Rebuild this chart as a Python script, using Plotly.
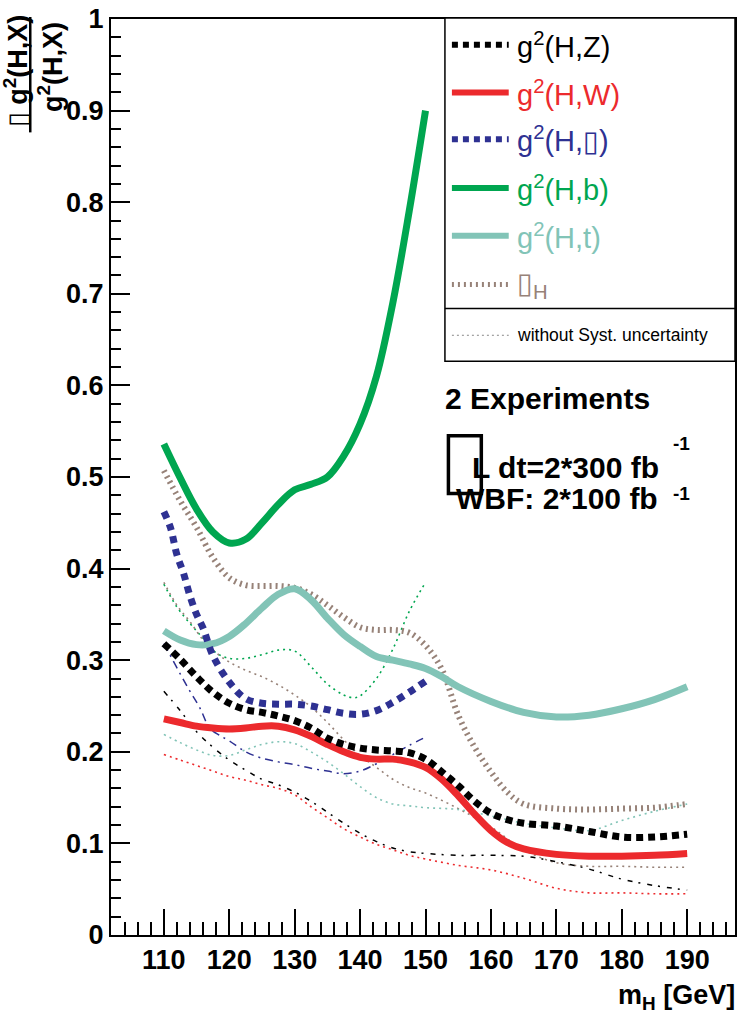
import plotly.graph_objects as go

# Higgs mass points (GeV) and relative coupling uncertainties
mass_bz = [110, 112.5, 115, 117.5, 120, 122.5, 125, 127.5, 130, 132.5, 135, 137.5, 140,
           142.5, 145, 147.5, 150, 152.5, 155, 157.5, 160, 162.5, 165, 170, 175, 180, 185, 190]
hz_syst = [0.318, 0.301, 0.282, 0.265, 0.253, 0.246, 0.243, 0.239, 0.234, 0.226, 0.215, 0.208, 0.204,
           0.202, 0.201, 0.199, 0.192, 0.178, 0.163, 0.146, 0.133, 0.126, 0.122, 0.119, 0.113, 0.107, 0.107, 0.110]
hw_syst = [0.236, 0.232, 0.228, 0.226, 0.225, 0.226, 0.228, 0.228, 0.224, 0.217, 0.208, 0.200, 0.194,
           0.192, 0.192, 0.189, 0.183, 0.170, 0.152, 0.132, 0.114, 0.101, 0.094, 0.088, 0.086, 0.086, 0.087, 0.089]
width_syst = [0.507, 0.474, 0.445, 0.412, 0.390, 0.382, 0.381, 0.381, 0.379, 0.372, 0.360, 0.347, 0.336,
              0.333, 0.333, 0.330, 0.316, 0.290, 0.240, 0.205, 0.178, 0.156, 0.143, 0.138, 0.137, 0.138, 0.139, 0.143]

mass_t = [110, 112.5, 115, 117.5, 120, 122.5, 125, 127.5, 130, 132.5, 135, 137.5, 140, 142.5, 145,
          147.5, 150, 152.5, 155, 160, 165, 170, 175, 180, 185, 190]
ht_syst = [0.332, 0.322, 0.317, 0.318, 0.326, 0.340, 0.357, 0.372, 0.378, 0.366, 0.346, 0.328, 0.315, 0.304, 0.300,
           0.296, 0.291, 0.282, 0.271, 0.255, 0.243, 0.238, 0.240, 0.247, 0.257, 0.271]

mass_b = [110, 112.5, 115, 117.5, 120, 122.5, 125, 127.5, 130, 132.5, 135, 137.5, 140, 142.5, 145, 147.5, 150]
hb_syst = [0.536, 0.499, 0.465, 0.440, 0.428, 0.432, 0.450, 0.470, 0.486, 0.492, 0.500, 0.523, 0.558, 0.610, 0.690, 0.790, 0.900]

mass_tau = [110, 111, 112, 113, 114, 115, 116, 117.5, 120, 122.5, 125, 127.5, 130, 132.5, 135, 137.5, 140, 142.5, 145, 147.5, 150]
htau_syst = [0.462, 0.445, 0.415, 0.395, 0.370, 0.350, 0.335, 0.305, 0.276, 0.258, 0.253, 0.252, 0.252, 0.250,
             0.246, 0.242, 0.241, 0.245, 0.254, 0.265, 0.277]

# statistical-only results
mass_nb = [110, 112, 114, 116, 118, 120, 122.5, 125, 127.5, 130, 132.5, 135, 137.5, 139, 140, 142.5, 145, 147.5, 150]
hb_stat = [0.383, 0.358, 0.340, 0.324, 0.308, 0.302, 0.302, 0.306, 0.311, 0.310, 0.293, 0.274, 0.262, 0.259, 0.261,
           0.280, 0.312, 0.353, 0.385]

mass_nw = [110, 112, 114, 116, 118, 120, 122.5, 125, 127.5, 130, 132.5, 135, 137.5, 140, 142.5, 145, 147.5, 150,
           155, 160, 165, 170, 175, 180, 185, 190]
width_stat = [0.385, 0.360, 0.342, 0.322, 0.308, 0.298, 0.289, 0.282, 0.273, 0.262, 0.249, 0.232, 0.213, 0.196,
              0.183, 0.170, 0.161, 0.155, 0.138, 0.118, 0.093, 0.079, 0.075, 0.075, 0.074, 0.074]

mass_s = [110, 112.5, 115, 117.5, 120, 122.5, 125, 127.5, 130, 132.5, 135, 137.5, 140, 142.5, 145, 147.5, 150,
          155, 160, 165, 170, 175, 180, 185, 190]
ht_stat = [0.219, 0.210, 0.202, 0.196, 0.196, 0.202, 0.208, 0.211, 0.209, 0.200, 0.189, 0.176, 0.162, 0.150, 0.143,
           0.141, 0.139, 0.137, 0.130, 0.122, 0.117, 0.114, 0.125, 0.135, 0.143]
hz_stat = [0.266, 0.245, 0.222, 0.205, 0.191, 0.180, 0.170, 0.164, 0.156, 0.146, 0.134, 0.122, 0.111, 0.102, 0.095,
           0.091, 0.089, 0.087, 0.087, 0.086, 0.080, 0.072, 0.061, 0.054, 0.049]
hw_stat = [0.197, 0.191, 0.185, 0.179, 0.173, 0.169, 0.164, 0.160, 0.153, 0.140, 0.128, 0.116, 0.107, 0.099, 0.093,
           0.087, 0.083, 0.076, 0.071, 0.062, 0.051, 0.046, 0.046, 0.045, 0.045]

mass_ntau = [110, 111, 112.5, 114, 115.5, 117, 118.5, 120, 122.5, 125, 127.5, 130, 132.5, 135, 137.5, 140, 142.5,
             145, 147.5, 150]
htau_stat = [0.318, 0.305, 0.285, 0.266, 0.248, 0.226, 0.218, 0.212, 0.200, 0.193, 0.189, 0.186, 0.182, 0.179,
             0.176, 0.179, 0.187, 0.197, 0.207, 0.216]

x_ticks = [110, 120, 130, 140, 150, 160, 170, 180, 190]

BLACK = "#000000"
RED = "#ec2a2d"
BLUE = "#2e3192"
GREEN = "#00a650"
TEAL = "#82c4b7"
BROWN = "#978278"

SANS = "Liberation Sans, Arial, DejaVu Sans, sans-serif"

fig = go.Figure()


def curve(x, y, color, width, dash):
    fig.add_trace(go.Scatter(x=x, y=y, mode="lines", showlegend=False, hoverinfo="skip",
                             line=dict(color=color, width=width, dash=dash, shape="spline", smoothing=1.0)))


# thin curves: statistics only
curve(mass_nb, hb_stat, GREEN, 1.6, "2px,4px")
curve(mass_nw, width_stat, BROWN, 1.6, "2px,4px")
curve(mass_s, ht_stat, TEAL, 1.6, "2px,4px")
curve(mass_s, hw_stat, RED, 1.6, "2px,4px")
curve(mass_ntau, htau_stat, BLUE, 1.5, "8px,5px,2px,5px")
curve(mass_s, hz_stat, BLACK, 1.5, "5px,6px,2px,7px")

# thick curves: including systematic uncertainty
curve(mass_bz, width_syst, BROWN, 6, "2px,4px")
curve(mass_t, ht_syst, TEAL, 7, "solid")
curve(mass_bz, hw_syst, RED, 7, "solid")
curve(mass_tau, htau_syst, BLUE, 7, "7px,6px")
curve(mass_bz, hz_syst, BLACK, 7, "7px,5px")
curve(mass_b, hb_syst, GREEN, 7, "solid")

# pixel -> paper helpers for the plot frame (left 111, right 737, top 14, bottom 935)
def px(xp):
    return (xp - 111) / 626.0


def py(yp):
    return (935 - yp) / 921.0


shapes = []
annotations = []

# legend box
shapes.append(dict(type="rect", xref="paper", yref="paper", x0=px(446), x1=px(737), y0=py(358), y1=py(13),
                   line=dict(color="black", width=1.5), fillcolor="white", layer="above"))
shapes.append(dict(type="line", xref="paper", yref="paper", x0=px(446), x1=px(737), y0=py(305), y1=py(305),
                   line=dict(color="black", width=1.5), layer="above"))

legend_items = [
    ("g<sup>2</sup>(H,Z)", BLACK, 6, "6px,5px", 40),
    ("g<sup>2</sup>(H,W)", RED, 6, "solid", 88),
    ("g<sup>2</sup>(H,▯)", BLUE, 6, "6px,5px", 135),
    ("g<sup>2</sup>(H,b)", GREEN, 6, "solid", 184),
    ("g<sup>2</sup>(H,t)", TEAL, 6, "solid", 232),
    ("▯<sub>H</sub>", BROWN, 5, "2px,4px", 281),
]
for text, color, w, dash, yc in legend_items:
    shapes.append(dict(type="line", xref="paper", yref="paper", x0=px(453), x1=px(510), y0=py(yc), y1=py(yc),
                       line=dict(color=color, width=w, dash=dash), layer="above"))
    annotations.append(dict(text=text, xref="paper", yref="paper", x=px(516), y=py(yc), xanchor="left",
                            yanchor="middle", showarrow=False, font=dict(family=SANS, size=29, color=color)))

shapes.append(dict(type="line", xref="paper", yref="paper", x0=px(453), x1=px(510), y0=py(332), y1=py(332),
                   line=dict(color="#888888", width=1, dash="2px,3px"), layer="above"))
annotations.append(dict(text="without Syst. uncertainty", xref="paper", yref="paper", x=px(516), y=py(332),
                        xanchor="left", yanchor="middle", showarrow=False,
                        font=dict(family=SANS, size=17.5, color="black")))

# luminosity text block; the integral sign shows as an empty glyph box
annotations.append(dict(text="<b>2 Experiments</b>", xref="paper", yref="paper", x=px(444), y=py(396),
                        xanchor="left", yanchor="middle", showarrow=False,
                        font=dict(family=SANS, size=30, color="black")))
shapes.append(dict(type="rect", xref="paper", yref="paper", x0=px(449.5), x1=px(482.5), y0=py(491), y1=py(433),
                   line=dict(color="black", width=3.5), layer="above"))
annotations.append(dict(text="<b>L dt=2*300 fb</b>", xref="paper", yref="paper", x=px(471), y=py(465),
                        xanchor="left", yanchor="middle", showarrow=False,
                        font=dict(family=SANS, size=30, color="black")))
annotations.append(dict(text="<b>-1</b>", xref="paper", yref="paper", x=px(673), y=py(441),
                        xanchor="left", yanchor="middle", showarrow=False,
                        font=dict(family=SANS, size=19, color="black")))
annotations.append(dict(text="<b>WBF: 2*100 fb</b>", xref="paper", yref="paper", x=px(455), y=py(496),
                        xanchor="left", yanchor="middle", showarrow=False,
                        font=dict(family=SANS, size=30, color="black")))
annotations.append(dict(text="<b>-1</b>", xref="paper", yref="paper", x=px(673), y=py(491),
                        xanchor="left", yanchor="middle", showarrow=False,
                        font=dict(family=SANS, size=19, color="black")))

# y-axis title as a fraction
annotations.append(dict(text="<b>▯ g<sup>2</sup>(H,X)</b>", xref="paper", yref="paper", x=px(15), y=py(66),
                        xanchor="center", yanchor="middle", textangle=-90, showarrow=False,
                        font=dict(family=SANS, size=27, color="black")))
shapes.append(dict(type="line", xref="paper", yref="paper", x0=px(30), x1=px(30), y0=py(128), y1=py(12),
                   line=dict(color="black", width=2.5)))
annotations.append(dict(text="<b>g<sup>2</sup>(H,X)</b>", xref="paper", yref="paper", x=px(50), y=py(62),
                        xanchor="center", yanchor="middle", textangle=-90, showarrow=False,
                        font=dict(family=SANS, size=27, color="black")))

# x-axis title
annotations.append(dict(text="<b>m<sub>H</sub> [GeV]</b>", xref="paper", yref="paper", x=px(739), y=py(997),
                        xanchor="right", yanchor="middle", showarrow=False,
                        font=dict(family=SANS, size=27, color="black")))

fig.update_layout(
    width=741, height=1013,
    margin=dict(l=111, r=4, t=14, b=78),
    paper_bgcolor="white", plot_bgcolor="white",
    shapes=shapes, annotations=annotations,
    xaxis=dict(range=[101.92, 197.31], tickvals=x_ticks, ticktext=[str(v) for v in x_ticks],
               ticks="inside", ticklen=26, tickwidth=1.5, tickcolor="black",
               minor=dict(dtick=2, tick0=0, ticks="inside", ticklen=13, tickwidth=1.5, tickcolor="black"),
               showline=True, linewidth=2, linecolor="black", mirror=True,
               showgrid=False, zeroline=False, ticklabeloverflow="allow",
               tickfont=dict(family=SANS, size=27, color="black", weight="bold")),
    yaxis=dict(range=[0, 1], dtick=0.1, tick0=0,
               ticks="inside", ticklen=19, tickwidth=1.5, tickcolor="black",
               minor=dict(dtick=0.02, tick0=0, ticks="inside", ticklen=10, tickwidth=1.5, tickcolor="black"),
               showline=True, linewidth=2, linecolor="black", mirror=True,
               showgrid=False, zeroline=False, ticklabeloverflow="allow",
               tickfont=dict(family=SANS, size=27, color="black", weight="bold")),
)

fig.write_html("out.html")
